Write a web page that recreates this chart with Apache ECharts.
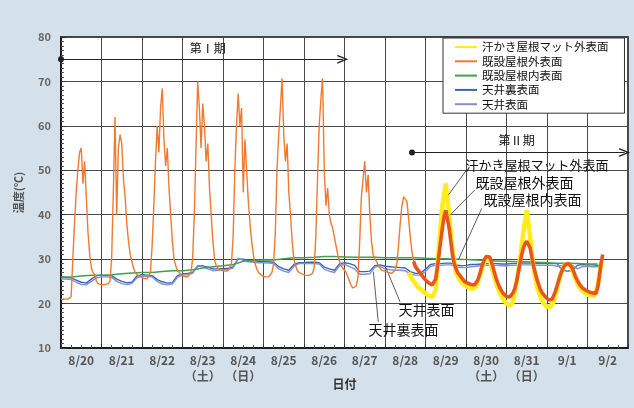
<!DOCTYPE html>
<html>
<head>
<meta charset="utf-8">
<script src="https://cdn.jsdelivr.net/npm/echarts@6/dist/echarts.min.js"></script>
<style>
  html, body { margin: 0; padding: 0; background: #d4e1ea; }
  #chart { width: 634px; height: 408px; }
</style>
</head>
<body>
<div id="chart"></div>
<script>
// Day labels under each day column (label sits at noon of that day)
const DAY_LABELS = ['8/20', '8/21', '8/22', '8/23', '8/24', '8/25', '8/26', '8/27', '8/28', '8/29', '8/30', '8/31', '9/1', '9/2'];
const DAY_NOTES = ['', '', '', '（土）', '（日）', '', '', '', '', '', '（土）', '（日）', '', ''];

const SERIES_NAMES = ['汗かき屋根マット外表面', '既設屋根外表面', '既設屋根内表面', '天井裏表面', '天井表面'];
const PERIOD_NAMES = ['第Ⅰ期', '第Ⅱ期'];

// 既設屋根外表面: hourly from 8/20 0:00 (one row per day)
const ROOF_OUTER_START = 0, ROOF_OUTER_STEP = 1;
const ROOF_OUTER = [
  21, 21, 21, 21, 21, 21, 21.5, 30, 38, 45, 50, 54, 55, 47, 52, 44, 36, 31, 28, 27, 26.5, 25, 24.5, 24.3,
  24.2, 24.2, 24.3, 24.3, 24.5, 25, 30, 45, 62, 40, 55, 58, 56, 48, 44, 38, 34, 31, 29.5, 28, 27, 26.5, 26.2, 26,
  25.8, 25.7, 25.6, 25.6, 25.8, 27, 33, 42, 52, 60, 54, 64, 68.4, 57, 51, 55, 46, 40, 34, 30, 28.5, 27.5, 27, 26.5,
  26.3, 26.1, 26, 26, 26.2, 27, 30, 40, 55, 70, 64, 55, 65, 60, 52, 56, 46, 40, 34, 30, 28.5, 28, 27.7, 27.5,
  27.4, 27.3, 27.3, 27.4, 27.8, 29, 35, 50, 60, 67.3, 60, 64, 45, 57, 50, 43, 38, 34, 31, 29, 27.8, 27, 26.6, 26.3,
  26.1, 26, 26, 26, 26.2, 27, 29, 36, 50, 58, 64, 70.7, 58, 52, 56, 45, 40, 34, 30, 28.5, 27.5, 27, 26.8, 26.6,
  26.5, 26.4, 26.3, 26.3, 26.4, 26.8, 28, 35, 48, 60, 66, 70.7, 50, 42, 46, 40, 38, 37, 35, 33, 31, 29.5, 28.5, 28,
  27.5, 27, 26, 25, 24, 23.5, 23.4, 24, 26, 34, 44, 48, 52, 45, 49, 40, 34, 31, 30, 29.5, 28.5, 28, 27.5, 27.5,
  27.3, 27, 27, 26.8, 26.8, 27, 27.5, 29, 33, 38, 42, 44, 44.4, 43, 39, 35, 31.5, 29.5, 28.3, 27.8, 27.3, 26.8, 26.3, 25.8,
  25.3, 24.9, 24.6, 24.3, 24.2, 24.4, 25.5, 28, 31, 34, 37, 39.5, 41, 39, 37, 34, 31, 29, 28, 27, 26.5, 26, 25.5, 25,
  24.8, 24.6, 24.4, 24.3, 24.2, 24.2, 24.4, 25.3, 26.5, 27.8, 29, 30, 30.6, 31, 30.5, 29.5, 28.2, 26.8, 25.5, 24.5, 23.6, 22.9, 22.3, 21.9,
  21.6, 21.5, 21.5, 21.8, 22.5, 23.5, 25, 27, 29, 31, 32.5, 33.5, 34, 33.8, 32.5, 30.5, 28.5, 27, 25.5, 24.3, 23.3, 22.5, 22, 21.5,
  21.1, 20.8, 20.8, 21, 21.8, 22.8, 24, 25.3, 26.5, 27.5, 28.3, 28.8, 29, 29, 28.7, 28, 27, 26, 25.2, 24.5, 24, 23.5, 23.2, 23,
  22.8, 22.6, 22.5, 22.4, 22.3, 22.3, 23.5, 26, 29, 31
];

// 汗かき屋根マット外表面: every 2 h from 8/28 14:00
const MAT_OUTER_START = 206, MAT_OUTER_STEP = 2;
const MAT_OUTER = [
  27, 25.5, 24.5, 23.5, 23, 22.3, 21.7, 21.5, 23, 33,
  42, 47, 40, 32, 27, 25.5, 24.5, 24, 23.5, 23.3,
  23.8, 26, 28.5, 30.5, 30, 27, 24.5, 22.5, 21, 20,
  19.5, 20.5, 25, 30, 36, 41, 35, 28, 24, 21.5,
  20, 19.3, 19.2, 20.5, 23.5, 26.5, 28.5, 29, 28.5, 26.5,
  24.5, 23.2, 22.5, 22, 21.8, 21.8, 24, 29
];

// 既設屋根内表面: every 6 h from 8/20 0:00
const ROOF_INNER_START = 0, ROOF_INNER_STEP = 6;
const ROOF_INNER = [
  26, 26, 26.2, 26.4, 26.4, 26.5, 26.7, 26.9, 27, 27,
  27.2, 27.4, 27.4, 27.6, 28, 28.3, 28.5, 28.8, 29.5, 29.7,
  29.8, 29.8, 30.1, 30.3, 30.3, 30.4, 30.6, 30.6, 30.5, 30.4,
  30.4, 30.4, 30.3, 30.3, 30.3, 30.3, 30.2, 30.1, 30.1, 30,
  29.9, 29.8, 29.7, 29.6, 29.5, 29.4, 29.4, 29.3, 29.2, 29.1,
  29.1, 29, 28.9, 28.9
];

// 天井裏表面 / 天井表面: every 3 h from 8/20 0:00
const CEIL_START = 0, CEIL_STEP = 3;
const CEIL_BACK = [
  26, 25.8, 25.8, 25.3, 24.8, 24.6, 25.5, 26.3, 26.4, 26.3,
  26.3, 25.5, 25, 24.7, 24.8, 26.2, 26.5, 26.4, 26.3, 25.4,
  24.9, 24.6, 24.7, 26.3, 26.7, 26.8, 27, 28.4, 28.5, 28.2,
  27.8, 27.8, 27.9, 27.9, 28.3, 30, 30, 29.7, 29.6, 29.5,
  29.5, 29.4, 29.3, 28.3, 27.8, 27.5, 28.8, 29.2, 29.2, 29.3,
  29.3, 29.2, 28.2, 27.8, 27.5, 28.9, 29.2, 29, 28.6, 27.2,
  27.2, 27.3, 28.5, 28.7, 28.4, 28.3, 28.2, 28.1, 28, 27.2,
  26.8, 26.8, 27.8, 28.8, 29, 29, 29.1, 29.1, 28.7, 28.5,
  28.6, 28.8, 28.8, 28.9, 29, 29, 29, 28.9, 28.9, 29,
  29, 29.1, 29.1, 29.1, 29, 29, 29, 29, 29, 27.5,
  27.3, 27.4, 28.6, 28.8, 28.7, 28.7, 28.6, 28.6
];
const CEIL_FACE = [
  25.6, 25.5, 25.4, 24.8, 24.3, 24.2, 25, 25.8, 26, 26,
  25.9, 25, 24.5, 24.3, 24.5, 25.8, 26.2, 26.1, 26, 25,
  24.4, 24.2, 24.4, 25.9, 26.4, 26.5, 26.8, 28.6, 28.3, 27.8,
  27.4, 27.5, 27.6, 27.7, 28, 30.2, 29.7, 29.4, 29.3, 29.2,
  29.2, 29.1, 29, 27.8, 27.3, 27, 28.4, 29, 29, 29,
  29, 28.9, 27.7, 27.3, 27, 28.5, 28.8, 28.3, 27.8, 26.6,
  26.6, 26.7, 28.2, 28.4, 27.8, 27.6, 27.5, 27.5, 27.4, 26.6,
  26.4, 26.4, 27.2, 28.4, 28.6, 28.6, 28.7, 28.7, 28.3, 28.1,
  28.1, 28.3, 28.4, 28.5, 28.6, 28.6, 28.6, 28.5, 28.5, 28.6,
  28.6, 28.7, 28.7, 28.7, 28.6, 28.6, 28.6, 28.6, 28.4, 28.6,
  28.8, 28.6, 27.8, 28.3, 28.4, 28.3, 28.3, 28.3
];

const FONT = '"Noto Sans CJK JP", "Noto Sans", sans-serif';
const HOURS_TOTAL = DAY_LABELS.length * 24;
const THICK_FROM = 209; // outer-surface sensors read as a wide band from here on

function toPairs(values, start, step) {
  return values.map((v, i) => [start + i * step, v]);
}

const roofOuterPairs = toPairs(ROOF_OUTER, ROOF_OUTER_START, ROOF_OUTER_STEP);

// Chevron arrow head (points up, rotated along the line by markLine)
const CHEVRON = 'path://M0,10 L5,0 L10,10 L8.4,10 L5,3.2 L1.6,10 Z';

function lineSeries(name, data, color, width, z) {
  return {
    type: 'line', name: name, data: data, z: z,
    showSymbol: false, symbol: 'none', smooth: false,
    color: color,
    lineStyle: { color: color, width: width },
    emphasis: { disabled: true },
    silent: true
  };
}

const option = {
  animation: false,
  backgroundColor: '#d4e1ea',
  textStyle: { fontFamily: FONT },
  grid: {
    left: 61, top: 37, right: 6, bottom: 60,
    show: true, backgroundColor: '#ffffff', borderColor: '#111', borderWidth: 1.5,
    outerBoundsMode: 'none'
  },
  legend: {
    data: SERIES_NAMES,
    orient: 'vertical', left: 443, top: 38,
    backgroundColor: '#ffffff', borderColor: '#333', borderWidth: 1, borderRadius: 0,
    padding: [3, 16, 3, 12],
    icon: 'rect', itemWidth: 22, itemHeight: 2, itemGap: 2.3,
    textStyle: { fontFamily: FONT, fontSize: 11.5, lineHeight: 12, color: '#111' },
    selectedMode: false
  },
  xAxis: [
    {
      type: 'value', min: 0, max: HOURS_TOTAL, interval: 24, position: 'bottom',
      axisLine: { show: true, lineStyle: { color: '#111', width: 1.5 } },
      axisTick: { show: true, inside: true, length: 4, lineStyle: { color: '#333' } },
      minorTick: { show: true, splitNumber: 4, length: 3, lineStyle: { color: '#555' } },
      axisLabel: { show: false },
      splitLine: { show: true, lineStyle: { color: '#4a4a4a', width: 1 } },
      name: '日付', nameLocation: 'middle', nameGap: 30,
      nameTextStyle: { fontFamily: FONT, fontSize: 12, fontWeight: 'bold', color: '#333' }
    },
    {
      type: 'value', min: 0, max: HOURS_TOTAL, interval: 12, position: 'bottom', offset: 0,
      axisLine: { show: false }, axisTick: { show: false }, splitLine: { show: false },
      axisLabel: {
        margin: 4, fontFamily: FONT, fontSize: 12, lineHeight: 16, color: '#555', fontWeight: 'bold',
        showMinLabel: true, showMaxLabel: true,
        formatter: function (v) {
          if (v % 24 !== 12) return '';
          const i = (v - 12) / 24;
          return DAY_LABELS[i] + (DAY_NOTES[i] ? '\n' + DAY_NOTES[i] : '');
        }
      }
    }
  ],
  yAxis: {
    type: 'value', min: 10, max: 80, interval: 10,
    axisLine: { show: true, lineStyle: { color: '#111', width: 1.5 } },
    axisTick: { show: true, inside: true, length: 5, lineStyle: { color: '#333' } },
    minorTick: { show: true, splitNumber: 10, length: 3, lineStyle: { color: '#555' } },
    splitLine: { show: true, lineStyle: { color: '#4a4a4a', width: 1 } },
    axisLabel: { margin: 10, fontFamily: FONT, fontSize: 11, fontWeight: 'bold', color: '#666' },
    name: '温度(℃)', nameLocation: 'middle', nameGap: 37, nameRotate: 90,
    nameTextStyle: { fontFamily: FONT, fontSize: 11, fontWeight: 'bold', color: '#555' }
  },
  series: [
    lineSeries(SERIES_NAMES[3], toPairs(CEIL_BACK, CEIL_START, CEIL_STEP), '#3d63b4', 1.4, 2),
    lineSeries(SERIES_NAMES[4], toPairs(CEIL_FACE, CEIL_START, CEIL_STEP), '#7f92d4', 1.4, 2),
    lineSeries(SERIES_NAMES[2], toPairs(ROOF_INNER, ROOF_INNER_START, ROOF_INNER_STEP), '#43a04a', 1.5, 3),
    lineSeries(SERIES_NAMES[0], toPairs(MAT_OUTER, MAT_OUTER_START, MAT_OUTER_STEP), '#ffec1a', 4.5, 4),
    lineSeries(SERIES_NAMES[1], roofOuterPairs, '#f07a30', 1.4, 5),
    lineSeries(SERIES_NAMES[1], roofOuterPairs.filter(p => p[0] >= THICK_FROM), '#e9561c', 3.6, 5),
    {
      type: 'line', name: 'notes', data: [], z: 6, silent: true,
      markLine: {
        silent: true, animation: false,
        label: { show: false },
        lineStyle: { color: '#222', width: 1, type: 'solid' },
        emphasis: { disabled: true },
        data: [
          [{ coord: [0, 75], symbol: 'circle', symbolSize: 6 },
           { coord: [167, 75], symbol: CHEVRON, symbolSize: [9, 11] }],
          [{ coord: [208, 54], symbol: 'circle', symbolSize: 6 },
           { coord: [334, 54], symbol: CHEVRON, symbolSize: [9, 11] }],
          [{ coord: [240.4, 50.1], symbol: 'none', lineStyle: { width: 0.8, color: '#333' } },
           { coord: [229.5, 44.4], symbol: 'none' }],
          [{ coord: [245.3, 45.6], symbol: 'none', lineStyle: { width: 0.8, color: '#333' } },
           { coord: [230.5, 39.9], symbol: 'none' }],
          [{ coord: [249.3, 41.4], symbol: 'none', lineStyle: { width: 0.8, color: '#333' } },
           { coord: [235.4, 29.8], symbol: 'none' }],
          [{ coord: [200.9, 20.4], symbol: 'none', lineStyle: { width: 0.8, color: '#333' } },
           { coord: [192.6, 28.0], symbol: 'none' }],
          [{ coord: [188.0, 15.9], symbol: 'none', lineStyle: { width: 0.8, color: '#333' } },
           { coord: [185.1, 27.2], symbol: 'none' }]
        ]
      },
      markPoint: {
        silent: true, animation: false,
        symbol: 'circle', symbolSize: 1,
        itemStyle: { color: 'rgba(0,0,0,0)' },
        label: {
          show: true, formatter: '{b}', position: 'right', distance: 0,
          fontFamily: FONT, fontSize: 14, color: '#111'
        },
        data: [
          { name: PERIOD_NAMES[0], coord: [87, 77.4], label: { position: 'inside', fontSize: 12 } },
          { name: PERIOD_NAMES[1], coord: [270, 56.7], label: { position: 'inside', fontSize: 12 } },
          { name: SERIES_NAMES[0], coord: [239.4, 51.2], label: { fontSize: 13 } },
          { name: SERIES_NAMES[1], coord: [245.3, 47.1] },
          { name: SERIES_NAMES[2], coord: [250.1, 43.3] },
          { name: SERIES_NAMES[4], coord: [199.7, 18.6] },
          { name: SERIES_NAMES[3], coord: [181.9, 14.1] }
        ]
      }
    }
  ]
};

const chart = echarts.init(document.getElementById('chart'), null, { renderer: 'canvas' });
chart.setOption(option);
</script>
</body>
</html>
